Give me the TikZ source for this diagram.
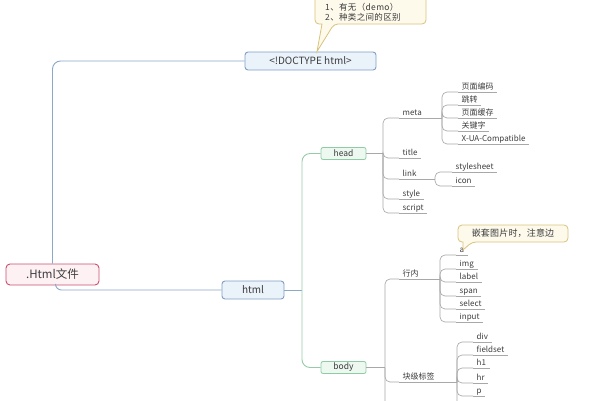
\documentclass[tikz,border=0pt]{standalone}
\usepackage{fontspec}
\setmainfont{Noto Sans CJK SC}
\definecolor{rootb}{HTML}{C9506E}
\definecolor{rootf}{HTML}{FDF1F3}
\definecolor{blueb}{HTML}{7F9FC4}
\definecolor{bluef}{HTML}{EAF2FA}
\definecolor{bluel}{HTML}{8AA8C8}
\definecolor{greenb}{HTML}{8FCCA5}
\definecolor{greenf}{HTML}{EDF8F0}
\definecolor{greenl}{HTML}{95CCA6}
\definecolor{grayl}{HTML}{A8A8A8}
\definecolor{callb}{HTML}{D9C27C}
\definecolor{callf}{HTML}{FDFAEC}
\definecolor{txt}{HTML}{3C3C3C}
\begin{document}
\begin{tikzpicture}[x=1pt,y=-1pt,
  leaf/.style={anchor=south west, inner xsep=3.5pt, inner ysep=1.2pt,
    font=\fontsize{8}{9}\selectfont, text=txt, text height=6pt, text depth=1pt},
  gline/.style={draw=grayl, line width=0.65pt, rounded corners=5pt},
  bline/.style={draw=bluel, line width=0.9pt, rounded corners=8pt},
  grline/.style={draw=greenl, line width=0.9pt, rounded corners=8pt},
  rootbox/.style={draw=rootb, fill=rootf, line width=0.9pt, rounded corners=4pt,
    minimum width=93pt, minimum height=21pt, inner sep=0pt, text=txt,
    font=\fontsize{11.5}{13}\selectfont},
  bluebox/.style={draw=blueb, fill=bluef, line width=0.9pt, rounded corners=3pt,
    minimum height=18pt, inner sep=0pt, text=txt, font=\fontsize{10}{12}\selectfont},
  greenbox/.style={draw=greenb, fill=greenf, line width=0.8pt, rounded corners=2pt,
    minimum width=45pt, minimum height=12pt, inner sep=0pt, text=txt,
    font=\fontsize{8.5}{10}\selectfont},
  callout/.style={draw=callb, fill=callf, line width=0.8pt},
  calltext/.style={inner sep=0pt, text=txt, align=left}
]
\useasboundingbox (0,0) rectangle (593,400);
\clip (0,0) rectangle (593,400);

% main boxes
\node[rootbox] (root) at (52.5,274.5) {.Html文件};
\node[bluebox, minimum width=131pt] (doc) at (310.5,61) {<!DOCTYPE html>};
\node[bluebox, minimum width=62pt] (html) at (253,290) {html};
\node[greenbox] (head) at (343.5,153.5) {head};
\node[greenbox] (body) at (343.5,367.5) {body};

% main connectors
\draw[bline] (root.north) |- (doc.west);
\draw[bline, rounded corners=6pt] ([xshift=3pt]root.south) |- (html.west);
\draw[bline] (html.east) -- (302,290) coordinate (hj);
\draw[grline] (hj) |- (head.west);
\draw[grline] (hj) |- (body.west);

% head children
\draw[gline] (head.east) -- (383,153.5) coordinate (hdj);
\node[leaf] (meta) at (399,118) {meta};
\node[leaf] (title) at (399,158) {title};
\node[leaf] (link) at (399,179) {link};
\node[leaf] (style) at (399,199) {style};
\node[leaf] (script) at (399,213) {script};
\foreach \n in {meta,title,link,style,script} {
  \draw[gline] (hdj) |- (\n.south west);
}
\foreach \n in {title,style,script} {
  \draw[gline] (\n.south west) -- (\n.south east);
}
\draw[gline] (meta.south west) -- (442,118) coordinate (mj);
\draw[gline] (link.south west) -- (435,179) coordinate (lj);

% meta children
\node[leaf] (m1) at (458,92) {页面编码};
\node[leaf] (m2) at (458,105) {跳转};
\node[leaf] (m3) at (458,118) {页面缓存};
\node[leaf] (m4) at (458,131) {关键字};
\node[leaf] (m5) at (458,144) {X-UA-Compatible};
\foreach \n in {m1,m2,m3,m4,m5} {
  \draw[gline] (mj) |- (\n.south west);
  \draw[gline] (\n.south west) -- (\n.south east);
}

% link children
\node[leaf] (l1) at (452,172) {stylesheet};
\node[leaf] (l2) at (452,186) {icon};
\foreach \n in {l1,l2} {
  \draw[gline] (lj) |- (\n.south west);
  \draw[gline] (\n.south west) -- (\n.south east);
}

% body children
\draw[gline] (body.east) -- (385,367.5) coordinate (bdj);
\node[leaf] (inl) at (399,279) {行内};
\node[leaf] (blk) at (399,382) {块级标签};
\coordinate (bmore) at (399,420);
\foreach \n in {inl,blk} {
  \draw[gline] (bdj) |- (\n.south west);
}
\draw[gline] (bdj) |- (bmore);
\draw[gline] (inl.south west) -- (440,279) coordinate (ij);
\draw[gline] (blk.south west) -- (457,382) coordinate (kj);

% inline children
\node[leaf] (i1) at (456,255) {a};
\node[leaf] (i2) at (456,269) {img};
\node[leaf] (i3) at (456,282) {label};
\node[leaf] (i4) at (456,296) {span};
\node[leaf] (i5) at (456,309) {select};
\node[leaf] (i6) at (456,322) {input};
\foreach \n in {i1,i2,i3,i4,i5,i6} {
  \draw[gline] (ij) |- (\n.south west);
  \draw[gline] (\n.south west) -- (\n.south east);
}

% block children
\node[leaf] (k1) at (473,342) {div};
\node[leaf] (k2) at (473,355) {fieldset};
\node[leaf] (k3) at (473,368) {h1};
\node[leaf] (k4) at (473,383) {hr};
\node[leaf] (k5) at (473,396) {p};
\coordinate (kmore) at (473,420);
\foreach \n in {k1,k2,k3,k4,k5} {
  \draw[gline] (kj) |- (\n.south west);
  \draw[gline] (\n.south west) -- (\n.south east);
}
\draw[gline] (kj) |- (kmore);

% callout 1
\draw[callout] [rounded corners=4pt] (315,-4) -- (426,-4) -- (426,24) -- (334,24)
  [sharp corners] -- (317,51.5) -- (322,24) [rounded corners=4pt] -- (315,24) -- cycle;
\node[calltext, anchor=north west, font=\fontsize{8.5}{9.5}\selectfont\addfontfeature{LetterSpace=4}] (c1) at (325,3.5) {1、有无（demo）\\2、种类之间的区别};

% callout 2
\draw[callout] [rounded corners=4pt] (458,225) -- (568,225) -- (568,242) -- (472,242)
  [sharp corners] -- (463,250) -- (463,242) [rounded corners=4pt] -- (458,242) -- cycle;
\node[calltext, font=\fontsize{9}{10}\selectfont\addfontfeature{LetterSpace=2}] (c2) at (513,233.5) {嵌套图片时，注意边};
\end{tikzpicture}
\end{document}
